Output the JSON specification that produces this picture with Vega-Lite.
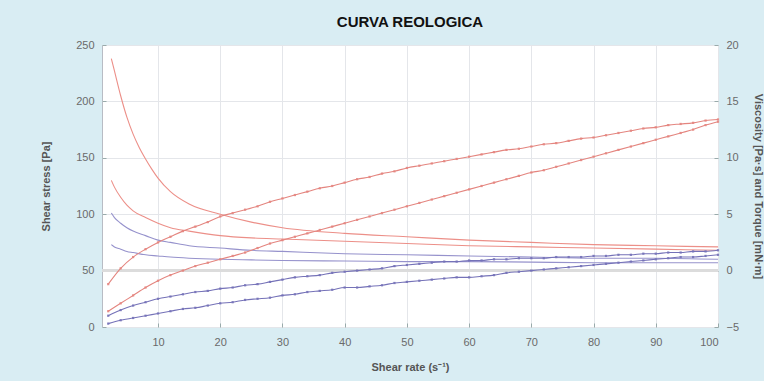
{
  "$schema": "https://vega.github.io/schema/vega-lite/v6.json",
  "width": 616,
  "height": 282,
  "autosize": {"type": "none"},
  "padding": {"left": 102, "top": 45, "right": 46, "bottom": 54},
  "background": "#d9edf3",
  "title": {"text": "CURVA REOLOGICA", "font": "Liberation Sans", "fontSize": 15, "fontWeight": "bold", "color": "#111", "anchor": "middle", "offset": 9},
  "config": {
    "view": {"fill": "white", "stroke": "#b8bcc4", "strokeWidth": 1},
    "axis": {"labelFont": "Liberation Sans", "labelFontSize": 11, "labelColor": "#6a6a6a", "titleFont": "Liberation Sans", "titleFontSize": 11, "titleFontWeight": "bold", "titleColor": "#555", "domain": false, "tickColor": "#9aa", "gridColor": "#e4e6ea", "tickSize": -4}
  },
  "datasets": {
    "curves": [
      {"s":"A","x":2.5,"y":238},{"s":"A","x":3,"y":227},{"s":"A","x":4,"y":205},{"s":"A","x":5,"y":186},{"s":"A","x":6,"y":171},{"s":"A","x":7,"y":159},{"s":"A","x":8,"y":149},{"s":"A","x":9,"y":140},{"s":"A","x":10,"y":132},{"s":"A","x":12,"y":120},{"s":"A","x":15,"y":109},{"s":"A","x":20,"y":100},{"s":"A","x":25,"y":93},{"s":"A","x":30,"y":88},{"s":"A","x":40,"y":83},{"s":"A","x":50,"y":80},{"s":"A","x":60,"y":77},{"s":"A","x":70,"y":75},{"s":"A","x":80,"y":73},{"s":"A","x":90,"y":72},{"s":"A","x":100,"y":71},
      {"s":"B","x":2.5,"y":130},{"s":"B","x":3,"y":124},{"s":"B","x":4,"y":115},{"s":"B","x":5,"y":108},{"s":"B","x":6,"y":103},{"s":"B","x":8,"y":97},{"s":"B","x":10,"y":92},{"s":"B","x":12,"y":88},{"s":"B","x":15,"y":85},{"s":"B","x":20,"y":81},{"s":"B","x":25,"y":79},{"s":"B","x":30,"y":78},{"s":"B","x":40,"y":76},{"s":"B","x":50,"y":74},{"s":"B","x":60,"y":72},{"s":"B","x":70,"y":71},{"s":"B","x":80,"y":70},{"s":"B","x":90,"y":69},{"s":"B","x":100,"y":68},
      {"s":"C","x":2.5,"y":101},{"s":"C","x":3,"y":97},{"s":"C","x":4,"y":92},{"s":"C","x":5,"y":88},{"s":"C","x":6,"y":85},{"s":"C","x":8,"y":81},{"s":"C","x":10,"y":77},{"s":"C","x":12,"y":75},{"s":"C","x":15,"y":72},{"s":"C","x":20,"y":70},{"s":"C","x":25,"y":68},{"s":"C","x":30,"y":67},{"s":"C","x":40,"y":65},{"s":"C","x":50,"y":64},{"s":"C","x":60,"y":63},{"s":"C","x":70,"y":62},{"s":"C","x":80,"y":61},{"s":"C","x":90,"y":61},{"s":"C","x":100,"y":60},
      {"s":"D","x":2.5,"y":73},{"s":"D","x":3,"y":71},{"s":"D","x":4,"y":69},{"s":"D","x":5,"y":67},{"s":"D","x":6,"y":66},{"s":"D","x":8,"y":64},{"s":"D","x":10,"y":63},{"s":"D","x":12,"y":62},{"s":"D","x":15,"y":61},{"s":"D","x":20,"y":60},{"s":"D","x":25,"y":59.5},{"s":"D","x":30,"y":59},{"s":"D","x":40,"y":58.5},{"s":"D","x":50,"y":58},{"s":"D","x":60,"y":58},{"s":"D","x":70,"y":57.5},{"s":"D","x":80,"y":57},{"s":"D","x":90,"y":57},{"s":"D","x":100,"y":57},
      {"s":"E","x":2,"y":38},{"s":"E","x":4,"y":52},{"s":"E","x":6,"y":62},{"s":"E","x":8,"y":69},{"s":"E","x":10,"y":75},{"s":"E","x":12,"y":80},{"s":"E","x":14,"y":85},{"s":"E","x":16,"y":89},{"s":"E","x":18,"y":93},{"s":"E","x":20,"y":98},{"s":"E","x":22,"y":101},{"s":"E","x":24,"y":104},{"s":"E","x":26,"y":107},{"s":"E","x":28,"y":111},{"s":"E","x":30,"y":114},{"s":"E","x":32,"y":117},{"s":"E","x":34,"y":120},{"s":"E","x":36,"y":123},{"s":"E","x":38,"y":125},{"s":"E","x":40,"y":128},{"s":"E","x":42,"y":131},{"s":"E","x":44,"y":133},{"s":"E","x":46,"y":136},{"s":"E","x":48,"y":138},{"s":"E","x":50,"y":141},{"s":"E","x":52,"y":143},{"s":"E","x":54,"y":145},{"s":"E","x":56,"y":147},{"s":"E","x":58,"y":149},{"s":"E","x":60,"y":151},{"s":"E","x":62,"y":153},{"s":"E","x":64,"y":155},{"s":"E","x":66,"y":157},{"s":"E","x":68,"y":158},{"s":"E","x":70,"y":160},{"s":"E","x":72,"y":162},{"s":"E","x":74,"y":163},{"s":"E","x":76,"y":165},{"s":"E","x":78,"y":167},{"s":"E","x":80,"y":168},{"s":"E","x":82,"y":170},{"s":"E","x":84,"y":172},{"s":"E","x":86,"y":174},{"s":"E","x":88,"y":176},{"s":"E","x":90,"y":177},{"s":"E","x":92,"y":179},{"s":"E","x":94,"y":180},{"s":"E","x":96,"y":181},{"s":"E","x":98,"y":183},{"s":"E","x":100,"y":184},
      {"s":"F","x":2,"y":14},{"s":"F","x":4,"y":21},{"s":"F","x":6,"y":28},{"s":"F","x":8,"y":35},{"s":"F","x":10,"y":41},{"s":"F","x":12,"y":46},{"s":"F","x":14,"y":50},{"s":"F","x":16,"y":54},{"s":"F","x":18,"y":57},{"s":"F","x":20,"y":60},{"s":"F","x":22,"y":63},{"s":"F","x":24,"y":66},{"s":"F","x":26,"y":70},{"s":"F","x":28,"y":74},{"s":"F","x":30,"y":77},{"s":"F","x":32,"y":80},{"s":"F","x":34,"y":83},{"s":"F","x":36,"y":86},{"s":"F","x":38,"y":89},{"s":"F","x":40,"y":92},{"s":"F","x":42,"y":95},{"s":"F","x":44,"y":98},{"s":"F","x":46,"y":101},{"s":"F","x":48,"y":104},{"s":"F","x":50,"y":107},{"s":"F","x":52,"y":110},{"s":"F","x":54,"y":113},{"s":"F","x":56,"y":116},{"s":"F","x":58,"y":119},{"s":"F","x":60,"y":122},{"s":"F","x":62,"y":125},{"s":"F","x":64,"y":128},{"s":"F","x":66,"y":131},{"s":"F","x":68,"y":134},{"s":"F","x":70,"y":137},{"s":"F","x":72,"y":139},{"s":"F","x":74,"y":142},{"s":"F","x":76,"y":145},{"s":"F","x":78,"y":148},{"s":"F","x":80,"y":151},{"s":"F","x":82,"y":154},{"s":"F","x":84,"y":157},{"s":"F","x":86,"y":160},{"s":"F","x":88,"y":163},{"s":"F","x":90,"y":166},{"s":"F","x":92,"y":169},{"s":"F","x":94,"y":172},{"s":"F","x":96,"y":175},{"s":"F","x":98,"y":179},{"s":"F","x":100,"y":182},
      {"s":"G","x":2,"y":10},{"s":"G","x":4,"y":15},{"s":"G","x":6,"y":19},{"s":"G","x":8,"y":22},{"s":"G","x":10,"y":25},{"s":"G","x":12,"y":27},{"s":"G","x":14,"y":29},{"s":"G","x":16,"y":31},{"s":"G","x":18,"y":32},{"s":"G","x":20,"y":34},{"s":"G","x":22,"y":35},{"s":"G","x":24,"y":37},{"s":"G","x":26,"y":38},{"s":"G","x":28,"y":40},{"s":"G","x":30,"y":42},{"s":"G","x":32,"y":44},{"s":"G","x":34,"y":45},{"s":"G","x":36,"y":46},{"s":"G","x":38,"y":48},{"s":"G","x":40,"y":49},{"s":"G","x":42,"y":50},{"s":"G","x":44,"y":51},{"s":"G","x":46,"y":52},{"s":"G","x":48,"y":54},{"s":"G","x":50,"y":55},{"s":"G","x":52,"y":56},{"s":"G","x":54,"y":57},{"s":"G","x":56,"y":58},{"s":"G","x":58,"y":58},{"s":"G","x":60,"y":59},{"s":"G","x":62,"y":59},{"s":"G","x":64,"y":60},{"s":"G","x":66,"y":60},{"s":"G","x":68,"y":61},{"s":"G","x":70,"y":61},{"s":"G","x":72,"y":61},{"s":"G","x":74,"y":62},{"s":"G","x":76,"y":62},{"s":"G","x":78,"y":62},{"s":"G","x":80,"y":63},{"s":"G","x":82,"y":63},{"s":"G","x":84,"y":64},{"s":"G","x":86,"y":64},{"s":"G","x":88,"y":65},{"s":"G","x":90,"y":65},{"s":"G","x":92,"y":66},{"s":"G","x":94,"y":66},{"s":"G","x":96,"y":67},{"s":"G","x":98,"y":67},{"s":"G","x":100,"y":68},
      {"s":"H","x":2,"y":3},{"s":"H","x":4,"y":6},{"s":"H","x":6,"y":8},{"s":"H","x":8,"y":10},{"s":"H","x":10,"y":12},{"s":"H","x":12,"y":14},{"s":"H","x":14,"y":16},{"s":"H","x":16,"y":17},{"s":"H","x":18,"y":19},{"s":"H","x":20,"y":21},{"s":"H","x":22,"y":22},{"s":"H","x":24,"y":24},{"s":"H","x":26,"y":25},{"s":"H","x":28,"y":26},{"s":"H","x":30,"y":28},{"s":"H","x":32,"y":29},{"s":"H","x":34,"y":31},{"s":"H","x":36,"y":32},{"s":"H","x":38,"y":33},{"s":"H","x":40,"y":35},{"s":"H","x":42,"y":35},{"s":"H","x":44,"y":36},{"s":"H","x":46,"y":37},{"s":"H","x":48,"y":39},{"s":"H","x":50,"y":40},{"s":"H","x":52,"y":41},{"s":"H","x":54,"y":42},{"s":"H","x":56,"y":43},{"s":"H","x":58,"y":44},{"s":"H","x":60,"y":44},{"s":"H","x":62,"y":45},{"s":"H","x":64,"y":46},{"s":"H","x":66,"y":48},{"s":"H","x":68,"y":49},{"s":"H","x":70,"y":50},{"s":"H","x":72,"y":51},{"s":"H","x":74,"y":52},{"s":"H","x":76,"y":53},{"s":"H","x":78,"y":54},{"s":"H","x":80,"y":55},{"s":"H","x":82,"y":56},{"s":"H","x":84,"y":57},{"s":"H","x":86,"y":58},{"s":"H","x":88,"y":59},{"s":"H","x":90,"y":60},{"s":"H","x":92,"y":61},{"s":"H","x":94,"y":62},{"s":"H","x":96,"y":62},{"s":"H","x":98,"y":63},{"s":"H","x":100,"y":64}
    ],
    "zero": [{"v": 0}]
  },
  "layer": [
    {
      "data": {"name": "zero"},
      "mark": {"type": "rule", "color": "#dcdcdc", "strokeWidth": 3},
      "encoding": {
        "y": {"field": "v", "type": "quantitative", "scale": {"domain": [-5, 20], "nice": false, "zero": false},
              "axis": {"orient": "right", "values": [-5, 0, 5, 10, 15, 20], "grid": false, "title": "Viscosity [Pa·s] and Torque [mN·m]", "titlePadding": 14, "labelPadding": 12}}
      }
    },
    {
      "data": {"name": "curves"},
      "layer": [
        {
          "mark": {"type": "line", "strokeWidth": 1.1, "interpolate": "monotone"},
          "encoding": {
            "x": {"field": "x", "type": "quantitative", "scale": {"domain": [1, 100], "nice": false, "zero": false},
                  "axis": {"values": [10, 20, 30, 40, 50, 60, 70, 80, 90, 100], "grid": true, "title": "Shear rate (s⁻¹)", "titlePadding": 14, "labelPadding": 13}},
            "y": {"field": "y", "type": "quantitative", "scale": {"domain": [0, 250], "nice": false},
                  "axis": {"values": [0, 50, 100, 150, 200, 250], "grid": true, "title": "Shear stress [Pa]", "titlePadding": 24, "labelPadding": 12}},
            "detail": {"field": "s"},
            "color": {"field": "s", "type": "nominal", "legend": null,
                      "scale": {"domain": ["A","B","C","D","E","F","G","H"], "range": ["#ec8f88","#ec8f88","#9692cc","#9692cc","#e4857f","#e4857f","#7572b8","#7572b8"]}}
          }
        },
        {
          "transform": [{"filter": "indexof(['E','F','G','H'], datum.s) >= 0"}],
          "mark": {"type": "point", "shape": "square", "filled": true, "size": 5, "opacity": 0.9},
          "encoding": {
            "x": {"field": "x", "type": "quantitative"},
            "y": {"field": "y", "type": "quantitative"},
            "color": {"field": "s", "type": "nominal", "legend": null}
          }
        }
      ]
    }
  ],
  "resolve": {"scale": {"y": "independent"}}
}
